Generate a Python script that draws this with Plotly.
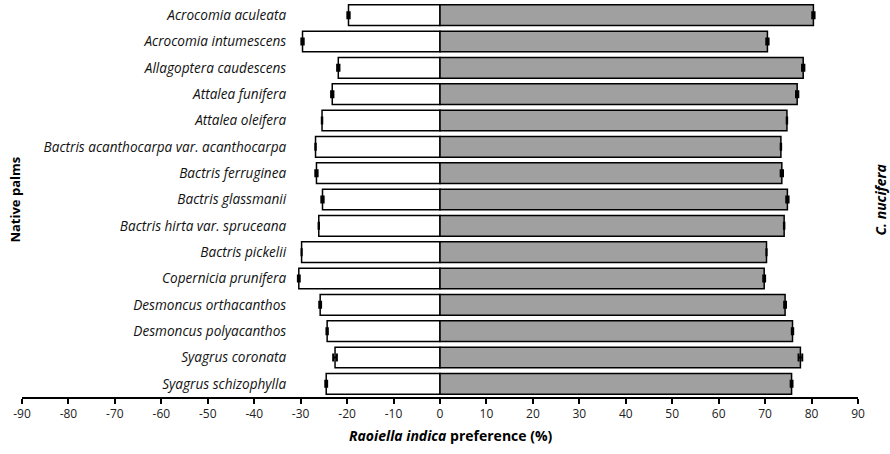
import plotly.graph_objects as go

species = [
    "Acrocomia aculeata",
    "Acrocomia intumescens",
    "Allagoptera caudescens",
    "Attalea funifera",
    "Attalea oleifera",
    "Bactris acanthocarpa var. acanthocarpa",
    "Bactris ferruginea",
    "Bactris glassmanii",
    "Bactris hirta var. spruceana",
    "Bactris pickelii",
    "Copernicia prunifera",
    "Desmoncus orthacanthos",
    "Desmoncus polyacanthos",
    "Syagrus coronata",
    "Syagrus schizophylla",
]
native_pref = [-19.7, -29.6, -21.9, -23.2, -25.4, -26.8, -26.6, -25.3, -26.1, -29.8, -30.4, -25.8, -24.3, -22.6, -24.5]
native_err = [0.25, 0.25, 0.25, 0.25, 0.05, 0.05, 0.25, 0.25, 0.05, 0.02, 0.2, 0.2, 0.15, 0.4, 0.2]
nucifera_pref = [80.4, 70.5, 78.2, 76.9, 74.7, 73.4, 73.6, 74.8, 74.1, 70.3, 69.8, 74.3, 75.9, 77.6, 75.7]
nucifera_err = [0.25, 0.25, 0.25, 0.25, 0.05, 0.05, 0.25, 0.25, 0.05, 0.02, 0.2, 0.2, 0.15, 0.4, 0.2]
x_ticks = list(range(-90, 91, 10))

FONT = "Open Sans"

fig = go.Figure()
fig.add_trace(go.Bar(
    y=species, x=native_pref, orientation="h",
    marker=dict(color="white", line=dict(color="black", width=1.5)),
    error_x=dict(type="data", array=native_err, color="black", thickness=2, width=4),
    showlegend=False,
))
fig.add_trace(go.Bar(
    y=species, x=nucifera_pref, orientation="h",
    marker=dict(color="#a0a0a0", line=dict(color="black", width=1.5)),
    error_x=dict(type="data", array=nucifera_err, color="black", thickness=2, width=4),
    showlegend=False,
))

fig.update_layout(
    width=890, height=454,
    margin=dict(l=22, r=32, t=2, b=57),
    paper_bgcolor="white", plot_bgcolor="white",
    barmode="overlay", bargap=0.215,
    font=dict(family=FONT, color="#222222", size=12),
    xaxis=dict(
        range=[-90, 90], tickvals=x_ticks, ticktext=[str(v) for v in x_ticks],
        showgrid=False, zeroline=False,
        showline=True, linecolor="black", linewidth=2,
        ticks="outside", ticklen=5, tickwidth=1.5, tickcolor="black",
        tickfont=dict(family=FONT, size=12, color="#222222"),
    ),
    yaxis=dict(
        categoryorder="array", categoryarray=species, autorange="reversed",
        anchor="free", position=0.316, side="left",
        showgrid=False, zeroline=False, showline=False, ticks="",
        tickfont=dict(family=FONT, size=13.6, color="#111111", style="italic"),
    ),
    annotations=[
        dict(text="<b><i>Raoiella indica</i> preference (%)</b>", xref="paper", yref="paper",
             x=0.5126, y=-0.0985, xanchor="center", yanchor="middle", showarrow=False,
             font=dict(family=FONT, size=14, color="black")),
        dict(text="<b>Native palms</b>", xref="paper", yref="paper", x=-0.0095, y=0.5,
             xanchor="center", yanchor="middle", textangle=-90, showarrow=False,
             font=dict(family=FONT, size=13, color="black")),
        dict(text="<b><i>C. nucifera</i></b>", xref="paper", yref="paper", x=1.0275, y=0.5,
             xanchor="center", yanchor="middle", textangle=-90, showarrow=False,
             font=dict(family=FONT, size=14, color="black")),
    ],
)

fig.write_html("out.html")
